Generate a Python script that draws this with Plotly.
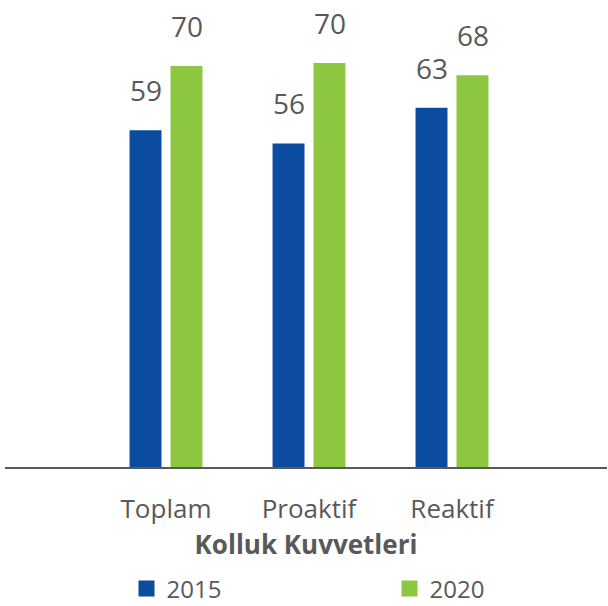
import plotly.graph_objects as go

categories = ["Toplam", "Proaktif", "Reaktif"]
values_2015 = [58.7, 56.4, 62.6]
values_2020 = [69.9, 70.4, 68.3]
labels_2015 = ["59", "56", "63"]
labels_2020 = ["70", "70", "68"]
series_names = ["2015", "2020"]
axis_title = "Kolluk Kuvvetleri"

BLUE = "#0C4CA0"
GREEN = "#8DC63F"
GREY = "#595959"
FONT = "Open Sans"

fig = go.Figure()
fig.add_trace(go.Bar(x=categories, y=values_2015, name=series_names[0], showlegend=False,
                     marker=dict(color=BLUE, line=dict(width=0))))
fig.add_trace(go.Bar(x=categories, y=values_2020, name=series_names[1], showlegend=False,
                     marker=dict(color=GREEN, line=dict(width=0))))
# legend entries (square swatches)
for name, col in zip(series_names, [BLUE, GREEN]):
    fig.add_trace(go.Scatter(x=[None], y=[None], mode="markers", name=name,
                             marker=dict(symbol="square", size=16, color=col),
                             hoverinfo="skip"))

annotations = []
for cat, v, t in zip(categories, values_2015, labels_2015):
    annotations.append(dict(x=cat, y=v, text=t, xref="x", yref="y", showarrow=False,
                            xshift=-20.5, yshift=19, yanchor="bottom",
                            font=dict(family=FONT, size=28, color=GREY)))
for cat, v, t in zip(categories, values_2020, labels_2020):
    annotations.append(dict(x=cat, y=v, text=t, xref="x", yref="y", showarrow=False,
                            xshift=20.5, yshift=19, yanchor="bottom",
                            font=dict(family=FONT, size=28, color=GREY)))

fig.update_layout(
    width=608, height=606,
    margin=dict(l=5, r=1, t=8, b=139),
    paper_bgcolor="white", plot_bgcolor="white",
    barmode="group", bargap=0.427, bargroupgap=0.22,
    font=dict(family=FONT, color=GREY),
    annotations=annotations,
    showlegend=True,
    legend=dict(orientation="h", xref="container", yref="container",
                x=126.5 / 608, xanchor="left", y=1 - 589 / 606, yanchor="middle",
                font=dict(family=FONT, size=24, color=GREY),
                itemsizing="trace",
                entrywidth=218, bgcolor="rgba(0,0,0,0)"),
    xaxis=dict(range=[-1.126, 3.084], showline=True, linecolor=GREY, linewidth=2,
               showgrid=False, zeroline=False, ticks="",
               tickfont=dict(family=FONT, size=26, color=GREY),
               ticklabelstandoff=18,
               title=dict(text="<b>" + axis_title + "</b>", standoff=8,
                          font=dict(family=FONT, size=26, color=GREY))),
    yaxis=dict(range=[0, 80], visible=False, showgrid=False, zeroline=False),
)

fig.write_html("out.html", config={"displayModeBar": False},
               post_script="document.body.style.margin='0';document.body.style.overflow='hidden';")
